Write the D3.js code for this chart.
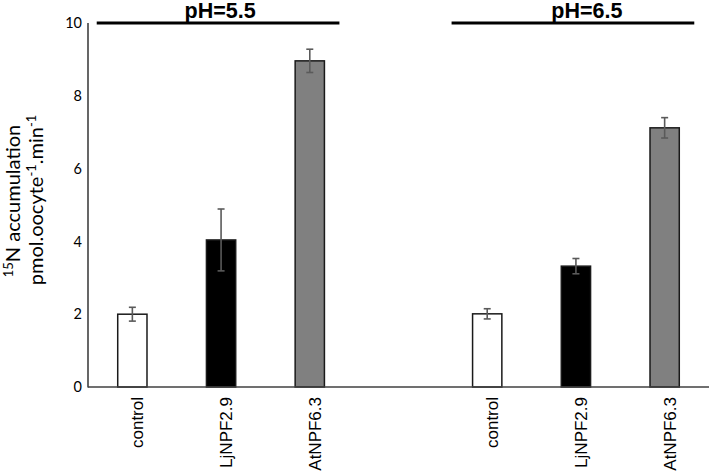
<!DOCTYPE html>
<html>
<head>
<meta charset="utf-8">
<script src="https://cdn.jsdelivr.net/npm/d3@7"></script>
<style>
  html, body { margin: 0; padding: 0; background: #fff; }
  svg { display: block; }
</style>
</head>
<body>
<svg id="chart" width="709" height="472"></svg>
<script>
// ---- data ----
const groups = ["pH=5.5", "pH=6.5"];
const categories = ["control", "LjNPF2.9", "AtNPF6.3"];
const values55 = [2.00, 4.04, 8.96];
const errors55 = [0.19, 0.85, 0.32];
const values65 = [2.01, 3.32, 7.12];
const errors65 = [0.14, 0.21, 0.28];
const yTicks = [0, 2, 4, 6, 8, 10];
const fills = ["#ffffff", "#000000", "#808080"];

// ---- build rows ----
const slots = ["0-0", "0-1", "0-2", "gap", "1-0", "1-1", "1-2"];
const rows = [];
[values55, values65].forEach((vals, g) => {
  const errs = g === 0 ? errors55 : errors65;
  vals.forEach((v, i) => rows.push({ key: g + "-" + i, g, i, label: categories[i], value: v, err: errs[i] }));
});

const svg = d3.select("#chart");
const x0 = 88, x1 = 709, yTop = 23, yBot = 387;

const x = d3.scaleBand().domain(slots).range([x0, x1]).paddingInner(0.67).paddingOuter(0.335);
const y = d3.scaleLinear().domain([0, 10]).range([yBot, yTop]);

// y tick labels
const yAxis = d3.axisLeft(y).tickValues(yTicks).tickSize(0).tickPadding(6).tickFormat(d3.format("d"));
const gy = svg.append("g").attr("transform", `translate(${x0},0)`).call(yAxis);
gy.select(".domain").remove();
gy.selectAll("text").attr("font-family", "Lato, 'Open Sans', sans-serif").attr("font-size", 14.5).attr("fill", "#000");

// bars
svg.append("g").selectAll("rect").data(rows).join("rect")
  .attr("x", d => x(d.key))
  .attr("y", d => y(d.value))
  .attr("width", x.bandwidth())
  .attr("height", d => y(0) - y(d.value))
  .attr("fill", d => fills[d.i])
  .attr("stroke", "#1a1a1a")
  .attr("stroke-width", 1.5);

// error bars
const eb = svg.append("g").attr("stroke", "#5a5a5a").attr("stroke-width", 1.6);
rows.forEach(d => {
  const cx = x(d.key) + x.bandwidth() / 2;
  eb.append("line").attr("x1", cx).attr("x2", cx).attr("y1", y(d.value + d.err)).attr("y2", y(d.value - d.err));
  [d.value + d.err, d.value - d.err].forEach(v => {
    eb.append("line").attr("x1", cx - 3.5).attr("x2", cx + 3.5).attr("y1", y(v)).attr("y2", y(v));
  });
});

// axes lines
svg.append("line").attr("x1", x0).attr("x2", x0).attr("y1", yTop).attr("y2", yBot + 0.5)
  .attr("stroke", "#404040").attr("stroke-width", 1.6);
svg.append("line").attr("x1", x0).attr("x2", x1).attr("y1", yBot).attr("y2", yBot)
  .attr("stroke", "#404040").attr("stroke-width", 1.6);

// x labels
svg.append("g").selectAll("text").data(rows).join("text")
  .attr("transform", d => `translate(${x(d.key) + x.bandwidth() / 2 + 11},${yBot + 10}) rotate(-90)`)
  .attr("text-anchor", "end")
  .attr("font-family", "'Liberation Sans', Arial, sans-serif")
  .attr("font-size", 17)
  .attr("fill", "#000")
  .text(d => d.label);

// group header lines and titles
const titleOffset = [2, 14];
groups.forEach((gname, g) => {
  const left = x(g + "-0") - 21;
  const right = x(g + "-2") + x.bandwidth() + 15;
  svg.append("line").attr("x1", left).attr("x2", right).attr("y1", yTop).attr("y2", yTop)
    .attr("stroke", "#000").attr("stroke-width", 3);
  svg.append("text")
    .attr("x", (left + right) / 2 + titleOffset[g])
    .attr("y", 17.5)
    .attr("text-anchor", "middle")
    .attr("font-family", "'Liberation Sans', Arial, sans-serif")
    .attr("font-weight", "bold")
    .attr("font-size", 21.5)
    .attr("fill", "#000")
    .text(gname);
});

// y label (two lines)
const lf = "Lato, 'Open Sans', sans-serif";
const l1 = svg.append("text")
  .attr("transform", "translate(19.5,201) rotate(-90)")
  .attr("text-anchor", "middle")
  .attr("font-family", lf).attr("font-size", 20).attr("fill", "#000");
l1.append("tspan").attr("font-size", 13).attr("dy", -7).text("15");
l1.append("tspan").attr("dy", 7).text("N accumulation");

const l2 = svg.append("text")
  .attr("transform", "translate(43,200) rotate(-90)")
  .attr("text-anchor", "middle")
  .attr("font-family", lf).attr("font-size", 20).attr("fill", "#000");
l2.append("tspan").text("pmol.oocyte");
l2.append("tspan").attr("font-size", 13).attr("dy", -7).text("-1");
l2.append("tspan").attr("dy", 7).text(".min");
l2.append("tspan").attr("font-size", 13).attr("dy", -7).text("-1");
</script>
</body>
</html>
